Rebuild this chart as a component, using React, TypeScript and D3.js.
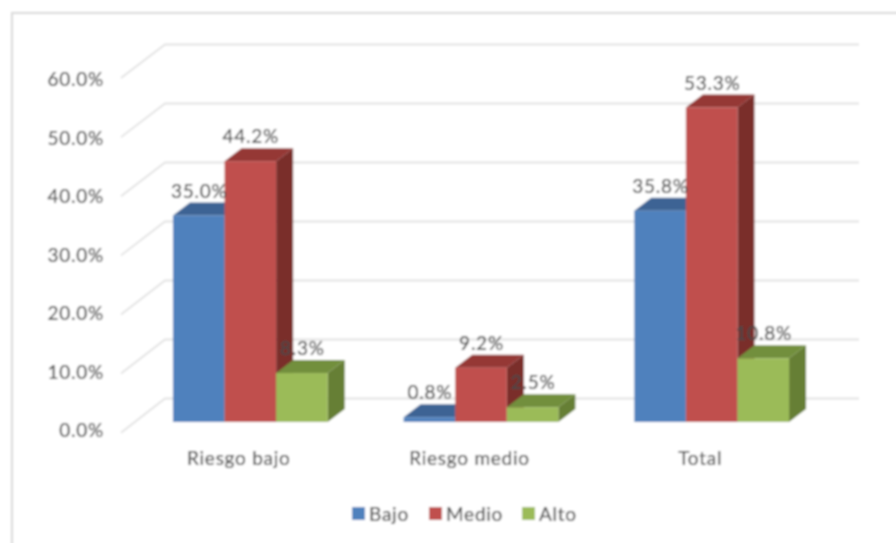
import React from "react";
import * as d3 from "d3";

const categories = ["Riesgo bajo", "Riesgo medio", "Total"];
const seriesNames = ["Bajo", "Medio", "Alto"];
const bajoValues = [35.0, 0.8, 35.8];
const medioValues = [44.2, 9.2, 53.3];
const altoValues = [8.3, 2.5, 10.8];
const yTicks = [0, 10, 20, 30, 40, 50, 60];

const frontColors = ["#4f81bd", "#c0504d", "#9bbb59"];
const topColors = ["#3c6494", "#953735", "#728f3e"];
const sideColors = ["#345882", "#7a2e2c", "#667f35"];
const legendX = [352, 429, 522];

const W = 896;
const H = 543;
const INK = "#4a4a4a";
const FONT = "Lato, 'Open Sans', sans-serif";
const FS = 19;
const LS = 0.75;

const x0 = d3.scaleBand<string>().domain(categories).range([135, 827]).paddingInner(0.329).paddingOuter(0.1645);
const x1 = d3.scaleBand<string>().domain(seriesNames).range([0, x0.bandwidth()]);
const yBar = d3.scaleLinear().domain([0, 60]).range([422, 68]);
const yWall = d3.scaleLinear().domain([0, 60]).range([398.5, 44.5]);
const yWallFront = d3.scaleLinear().domain([0, 60]).range([432.7, 78]);
const yLabel = d3.scaleLinear().domain([0, 60]).range([429.5, 78.5]);

const wallLeft = 165;
const wallFront = 121;
const wallRight = 859;
const barDx = 17;
const barDy = -13;

const line = d3.line();
const poly = (pts: [number, number][]) => line(pts) + "Z";

export default function App() {
  const allValues = [bajoValues, medioValues, altoValues];
  const textProps = {
    fontFamily: FONT,
    fontSize: FS,
    fill: INK,
    stroke: INK,
    strokeWidth: 0.2,
    letterSpacing: LS,
    dominantBaseline: "central" as const,
  };
  return (
    <svg
      width={W}
      height={H}
      viewBox={`0 0 ${W} ${H}`}
      style={{ position: "absolute", left: 0, top: 0, background: "#fff" }}
    >
      <defs>
        <filter id="soft" x="-5%" y="-5%" width="110%" height="110%">
          <feGaussianBlur stdDeviation="0.9" />
        </filter>
      </defs>
      <g filter="url(#soft)">
        <rect x={12} y={13} width={W + 20} height={H + 20} fill="#fff" stroke="#d9d9d9" strokeWidth={2} />
        {yTicks.map((t) => (
          <g key={t}>
            <path
              d={line([[wallFront, yWallFront(t)], [wallLeft, yWall(t)], [wallRight, yWall(t)]]) as string}
              fill="none"
              stroke="#e2e2e2"
              strokeWidth={1.8}
            />
            <text x={104} y={yLabel(t)} textAnchor="end" {...textProps}>
              {t.toFixed(1)}%
            </text>
          </g>
        ))}
        {categories.map((c, ci) => (
          <g key={c}>
            {seriesNames.map((s, si) => {
              const v = allValues[si][ci];
              const x = (x0(c) as number) + (x1(s) as number);
              const w = x1.bandwidth();
              const yT = yBar(v);
              const yB = yBar(0);
              return (
                <g key={s}>
                  <path
                    d={poly([[x + w, yT], [x + w + barDx, yT + barDy], [x + w + barDx, yB + barDy], [x + w, yB]])}
                    fill={sideColors[si]}
                  />
                  <path
                    d={poly([[x, yT], [x + barDx, yT + barDy], [x + w + barDx, yT + barDy], [x + w, yT]])}
                    fill={topColors[si]}
                  />
                  <rect x={x} y={yT} width={w} height={yB - yT} fill={frontColors[si]} />
                </g>
              );
            })}
          </g>
        ))}
        {categories.map((c, ci) =>
          seriesNames.map((s, si) => {
            const v = allValues[si][ci];
            const x = (x0(c) as number) + (x1(s) as number) + x1.bandwidth() / 2;
            return (
              <text key={c + s} x={x + 0.5} y={yBar(v) - 25.5} textAnchor="middle" {...textProps}>
                {v.toFixed(1)}%
              </text>
            );
          })
        )}
        {categories.map((c) => (
          <text
            key={c}
            x={(x0(c) as number) + x0.bandwidth() / 2 - 11.5}
            y={457.5}
            textAnchor="middle"
            {...textProps}
          >
            {c}
          </text>
        ))}
        {seriesNames.map((s, si) => (
          <g key={s}>
            <rect x={legendX[si]} y={507} width={13} height={13} fill={frontColors[si]} />
            <text x={legendX[si] + 17} y={513} {...textProps}>
              {s}
            </text>
          </g>
        ))}
      </g>
    </svg>
  );
}
